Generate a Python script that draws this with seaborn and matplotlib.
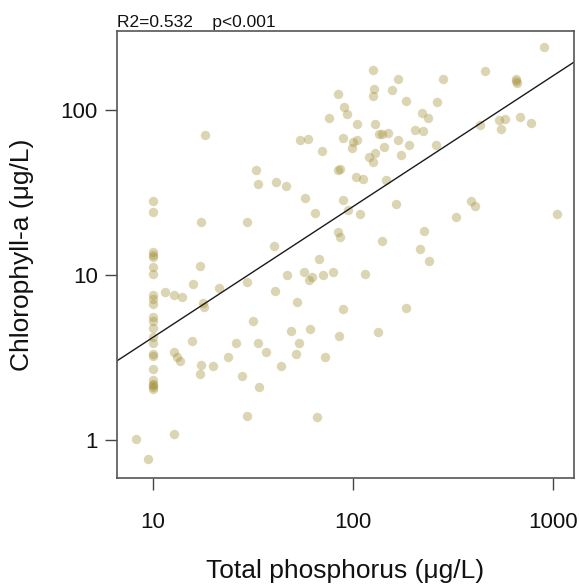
import matplotlib

matplotlib.use("Agg")

import matplotlib.pyplot as plt
import numpy as np
import pandas as pd
import seaborn as sns

# values (ug/L)
tp_at_ten = [10.0] * 23
chla_at_ten = [28.0, 24.0, 13.8, 13.2, 12.8, 11.2, 10.2, 7.6, 7.2, 6.7, 5.6, 5.3,
               4.8, 4.2, 3.9, 3.3, 3.25, 2.7, 2.3, 2.2, 2.15, 2.1, 2.05]

tp_other = [
    11.5, 12.8, 14.1, 16.0, 17.3, 21.6, 29.8, 17.9, 18.1, 31.7, 15.8, 26.1,
    33.8, 36.9, 12.8, 13.2, 13.7, 17.5, 17.3, 20.0, 23.8, 27.9, 34.1, 29.7,
    12.8, 8.3, 9.5, 68.0, 47.2, 57.0, 60.6, 62.5, 71.0, 79.3, 115.8, 41.0,
    52.8, 89.9, 184.5, 49.3, 61.3, 54.0, 85.6, 134.1, 51.8, 72.6, 43.9, 66.7,
    241.3, 127.0, 169.4, 157.0, 128.5, 127.0, 183.7, 84.3, 90.3, 93.2, 76.3, 105.3,
    130.0, 54.8, 59.9, 70.6, 89.6, 99.8, 105.7, 99.4, 134.6, 140.9, 150.0, 143.7,
    168.8, 192.2, 175.3, 129.6, 120.4, 126.1, 84.3, 86.6, 104.1, 112.0, 145.9, 41.5,
    46.3, 57.7, 89.3, 64.9, 95.3, 108.2, 165.5, 84.3, 86.6, 140.5, 40.5, 904.0,
    458.0, 655.0, 655.0, 660.0, 283.5, 263.6, 222.6, 239.1, 205.4, 224.4, 261.5, 432.3,
    535.9, 578.8, 548.4, 682.6, 774.6, 388.2, 406.4, 330.2, 1050.0, 227.0, 216.8, 33.0,
    33.8, 18.2, 17.5, 29.8,
]
chla_other = [
    7.9, 7.6, 7.4, 8.8, 11.4, 8.4, 9.1, 6.8, 6.4, 5.3, 4.0, 3.9,
    3.9, 3.4, 3.4, 3.2, 3.0, 2.85, 2.5, 2.8, 3.2, 2.45, 2.1, 1.4,
    1.09, 1.01, 0.77, 12.6, 10.0, 10.4, 9.4, 9.7, 10.0, 10.4, 10.1, 8.0,
    6.9, 6.2, 6.3, 4.6, 4.7, 3.9, 4.3, 4.5, 3.3, 3.2, 2.8, 1.37,
    12.2, 175.0, 154.0, 132.0, 135.0, 122.0, 113.0, 125.0, 104.0, 95.0, 89.0, 82.0,
    82.0, 65.5, 66.4, 56.4, 67.4, 64.3, 65.8, 58.6, 71.9, 71.5, 72.5, 59.9,
    65.8, 61.4, 53.2, 55.1, 52.1, 48.2, 43.3, 43.7, 39.3, 38.0, 37.5, 36.8,
    34.8, 29.2, 28.6, 23.8, 24.7, 23.3, 26.9, 18.2, 17.0, 16.1, 15.0, 241.0,
    172.0, 155.0, 150.0, 146.0, 154.0, 112.0, 95.5, 89.1, 75.6, 74.6, 61.6, 81.2,
    87.0, 88.2, 76.7, 91.1, 83.4, 28.1, 26.2, 22.4, 23.5, 18.6, 14.4, 43.1,
    35.8, 70.3, 21.0, 21.0,
]

# fitted log10-log10 line, as printed on the reference
fit_intercept = -0.172
fit_slope = 0.793
r2_text = "R2=0.532    p<0.001"

x_ticks = [10, 100, 1000]
y_ticks = [1, 10, 100]

df = pd.DataFrame({
    "tp": tp_at_ten + tp_other,
    "chla": chla_at_ten + chla_other,
})

sns.set_theme(style="ticks")
plt.rcParams["font.family"] = ["Liberation Sans", "DejaVu Sans"]

fig = plt.figure(figsize=(5.79, 5.86), dpi=100)
ax = fig.add_axes([0.2016, 0.1848, 0.789, 0.762])

sns.scatterplot(data=df, x="tp", y="chla", ax=ax, color="#a08c30", alpha=0.36,
                s=46, linewidth=0, legend=False)

ax.set_xscale("log")
ax.set_yscale("log")
x_lim = (6.62, 1270)
y_lim = (0.591, 301)
ax.set_xlim(*x_lim)
ax.set_ylim(*y_lim)

line_x = np.array(x_lim)
line_y = 10 ** (fit_intercept + fit_slope * np.log10(line_x))
sns.lineplot(x=line_x, y=line_y, ax=ax, color="#1a1a1a", linewidth=1.0)

ax.set_xticks(x_ticks)
ax.set_xticklabels([str(t) for t in x_ticks])
ax.set_yticks(y_ticks)
ax.set_yticklabels([str(t) for t in y_ticks])
ax.minorticks_off()
ax.tick_params(axis="both", length=8.5, width=1.0, color="#444444",
               labelsize=16, labelcolor="#111111")
ax.tick_params(axis="x", pad=16)
ax.tick_params(axis="y", pad=5)

for spine in ax.spines.values():
    spine.set_visible(True)
    spine.set_color("#555555")
    spine.set_linewidth(1.2)

ax.set_xlabel("Total phosphorus (μg/L)", fontsize=19, labelpad=19, color="#111111")
ax.set_ylabel("Chlorophyll-a (μg/L)", fontsize=19, labelpad=19, color="#111111")
ax.set_title(r2_text, loc="left", fontsize=12.5, pad=3, color="#111111")

fig.savefig("out.png", dpi=100)
